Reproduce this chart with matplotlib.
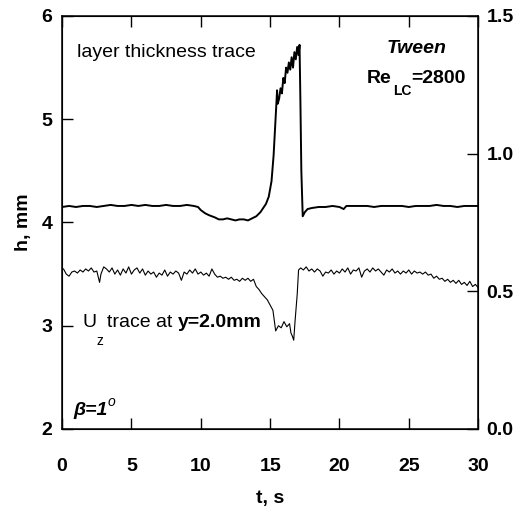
import matplotlib.pyplot as plt

plt.rcParams['font.family'] = ['Liberation Sans', 'DejaVu Sans']

# layer thickness trace (h, mm)
t_layer = [0.0, 0.5, 1.0, 1.5, 2.0, 2.5, 3.0, 3.5, 4.0, 4.5, 5.0, 5.5, 6.0, 6.5, 7.0,
           7.5, 8.0, 8.5, 9.0, 9.5, 9.8, 10.0, 10.3, 10.6, 11.0, 11.3, 11.6, 11.9,
           12.2, 12.5, 12.8, 13.1, 13.4, 13.7, 14.0, 14.3, 14.5, 14.7, 14.9, 15.1,
           15.25, 15.35, 15.45, 15.5, 15.55, 15.65, 15.75, 15.85, 15.95, 16.05, 16.15,
           16.25, 16.35, 16.45, 16.55, 16.65, 16.75, 16.85, 16.95, 17.05, 17.12, 17.18,
           17.25, 17.35, 17.5, 17.7, 18.0, 18.5, 19.0, 19.5, 20.0, 20.3, 20.5, 21.0,
           21.5, 22.0, 22.5, 23.0, 23.5, 24.0, 24.5, 25.0, 25.5, 26.0, 26.5, 27.0,
           27.5, 28.0, 28.5, 29.0, 29.5, 30.0]
h_layer = [4.15, 4.16, 4.15, 4.16, 4.16, 4.15, 4.16, 4.17, 4.16, 4.16, 4.17, 4.16, 4.17,
           4.16, 4.16, 4.17, 4.16, 4.16, 4.17, 4.16, 4.15, 4.12, 4.09, 4.07, 4.05, 4.03,
           4.03, 4.04, 4.03, 4.02, 4.03, 4.03, 4.02, 4.04, 4.06, 4.10, 4.14, 4.18, 4.25,
           4.40, 4.65, 4.90, 5.15, 5.28, 5.15, 5.20, 5.30, 5.25, 5.40, 5.35, 5.50, 5.45,
           5.55, 5.48, 5.60, 5.50, 5.65, 5.58, 5.70, 5.62, 5.72, 5.20, 4.50, 4.06, 4.10,
           4.13, 4.14, 4.15, 4.15, 4.16, 4.15, 4.13, 4.16, 4.16, 4.16, 4.16, 4.15, 4.16,
           4.16, 4.16, 4.16, 4.15, 4.16, 4.16, 4.16, 4.17, 4.16, 4.16, 4.15, 4.16, 4.16,
           4.16]

# Uz trace at y=2.0mm, read against the left scale
t_uz = [0.1, 0.3, 0.5, 0.7, 0.9, 1.1, 1.3, 1.5, 1.7, 1.9, 2.1, 2.3, 2.5, 2.7, 2.8, 3.0,
        3.2, 3.4, 3.6, 3.8, 4.0, 4.2, 4.4, 4.6, 4.8, 5.0, 5.2, 5.4, 5.6, 5.8, 6.0, 6.2,
        6.4, 6.6, 6.8, 7.0, 7.2, 7.4, 7.6, 7.8, 8.0, 8.2, 8.4, 8.6, 8.8, 9.0, 9.2, 9.4,
        9.6, 9.8, 10.0, 10.2, 10.4, 10.6, 10.8, 11.0, 11.2, 11.4, 11.6, 11.8, 12.0, 12.2,
        12.4, 12.6, 12.8, 13.0, 13.2, 13.4, 13.6, 13.8, 14.0, 14.2, 14.4, 14.6, 14.8,
        15.0, 15.2, 15.3, 15.4, 15.6, 15.8, 16.0, 16.2, 16.4, 16.5, 16.6, 16.7, 16.8,
        16.95, 17.05, 17.2, 17.4, 17.6, 17.8, 18.0, 18.2, 18.4, 18.6, 18.8, 19.0, 19.2,
        19.4, 19.6, 19.8, 20.0, 20.2, 20.4, 20.6, 20.8, 21.0, 21.2, 21.4, 21.6, 21.8,
        22.0, 22.2, 22.4, 22.6, 22.8, 23.0, 23.2, 23.4, 23.6, 23.8, 24.0, 24.2, 24.4,
        24.6, 24.8, 25.0, 25.2, 25.4, 25.6, 25.8, 26.0, 26.2, 26.4, 26.6, 26.8, 27.0,
        27.2, 27.4, 27.6, 27.8, 28.0, 28.2, 28.4, 28.6, 28.8, 29.0, 29.2, 29.4, 29.6,
        29.8, 30.0]
h_uz = [3.55, 3.50, 3.48, 3.52, 3.53, 3.51, 3.54, 3.52, 3.55, 3.53, 3.56, 3.52, 3.53,
        3.42, 3.50, 3.57, 3.55, 3.52, 3.56, 3.50, 3.54, 3.49, 3.55, 3.51, 3.57, 3.50,
        3.54, 3.56, 3.51, 3.55, 3.49, 3.53, 3.50, 3.52, 3.47, 3.51, 3.49, 3.54, 3.48,
        3.52, 3.50, 3.53, 3.51, 3.44, 3.52, 3.50, 3.54, 3.51, 3.55, 3.50, 3.52, 3.49,
        3.51, 3.48, 3.55, 3.50, 3.47, 3.48, 3.46, 3.47, 3.45, 3.47, 3.44, 3.45, 3.43,
        3.46, 3.44, 3.46, 3.43, 3.45, 3.38, 3.35, 3.31, 3.28, 3.25, 3.20, 3.15, 3.05,
        2.95, 3.00, 2.98, 3.04, 2.99, 3.02, 2.93, 2.90, 2.86, 3.05, 3.30, 3.54, 3.56,
        3.54, 3.57, 3.53, 3.55, 3.52, 3.55, 3.53, 3.48, 3.52, 3.51, 3.54, 3.50, 3.53,
        3.51, 3.55, 3.52, 3.56, 3.50, 3.54, 3.53, 3.56, 3.47, 3.53, 3.55, 3.52, 3.56,
        3.53, 3.55, 3.52, 3.49, 3.54, 3.52, 3.55, 3.51, 3.53, 3.50, 3.53, 3.51, 3.54,
        3.50, 3.53, 3.51, 3.52, 3.50, 3.52, 3.49, 3.50, 3.46, 3.48, 3.45, 3.46, 3.43,
        3.45, 3.42, 3.44, 3.41, 3.44, 3.40, 3.42, 3.39, 3.43, 3.38, 3.40, 3.37]

fig = plt.figure(figsize=(5.22, 5.15), dpi=100)
ax = fig.add_axes([0.119, 0.167, 0.797, 0.802])

ax.plot(t_layer, h_layer, color='black', lw=1.4)
ax.plot(t_uz, h_uz, color='black', lw=0.8)

ax.set_xlim(0, 30)
ax.set_ylim(2, 6)
ax.set_xticks([0, 5, 10, 15, 20, 25, 30])
ax.set_yticks([2, 3, 4, 5, 6])
ax.tick_params(direction='in', length=8, width=1, labelsize=14, top=True)
ax.tick_params(axis='x', pad=21)
ax.tick_params(axis='y', pad=7)
for lab in ax.get_xticklabels() + ax.get_yticklabels():
    lab.set_fontweight('bold')
for sp in ax.spines.values():
    sp.set_linewidth(1.1)

ax2 = ax.twinx()
ax2.set_ylim(0, 1.5)
ax2.set_yticks([0.0, 0.5, 1.0, 1.5])
ax2.set_yticklabels(['0.0', '0.5', '1.0', '1.5'], fontweight='bold')
ax2.tick_params(direction='in', length=8, width=1, labelsize=14, pad=6)

ax.set_xlabel('t, s', fontsize=14, fontweight='bold', labelpad=11)
ax.set_ylabel('h, mm', fontsize=14, fontweight='bold', labelpad=7)

# annotations
ax.text(0.036, 0.900, 'layer thickness trace', transform=ax.transAxes, fontsize=14,
        va='baseline', ha='left')
ax.text(0.853, 0.910, 'Tween', transform=ax.transAxes, fontsize=14,
        fontweight='bold', fontstyle='italic', ha='center', va='baseline')

re = ax.text(0.733, 0.838, 'Re', transform=ax.transAxes, fontsize=14,
             fontweight='bold', ha='left', va='baseline')
lc = ax.annotate('LC', xy=(1, 0), xycoords=re, xytext=(1, -8), textcoords='offset points',
                 fontsize=10, fontweight='bold', ha='left', va='bottom')
ax.annotate('=2800', xy=(1, 0), xycoords=lc, xytext=(0, 8), textcoords='offset points',
            fontsize=14, fontweight='bold', ha='left', va='bottom')

u = ax.text(0.050, 0.247, 'U', transform=ax.transAxes, fontsize=14,
            ha='left', va='baseline')
z = ax.annotate('z', xy=(1, 0), xycoords=u, xytext=(0, -12), textcoords='offset points',
                fontsize=10, ha='left', va='bottom')
tr = ax.annotate('trace at', xy=(1, 0), xycoords=z, xytext=(2, 12), textcoords='offset points',
                 fontsize=14, ha='left', va='bottom')
ax.annotate('y=2.0mm', xy=(1, 0), xycoords=tr, xytext=(4, 0), textcoords='offset points',
            fontsize=14, fontweight='bold', ha='left', va='bottom')

beta = ax.text(0.026, 0.034, 'β=1', transform=ax.transAxes, fontsize=14,
               fontweight='bold', fontstyle='italic', ha='left', va='baseline')
ax.annotate('o', xy=(1, 0), xycoords=beta, xytext=(0.5, 7.5), textcoords='offset points',
            fontsize=10, fontstyle='italic', ha='left', va='bottom')

fig.savefig('out.png', dpi=100)
